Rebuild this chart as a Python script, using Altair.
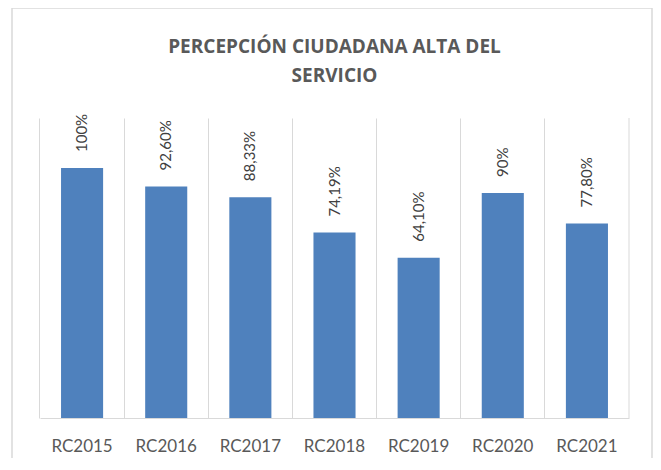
import altair as alt
import pandas as pd

categories = ["RC2015", "RC2016", "RC2017", "RC2018", "RC2019", "RC2020", "RC2021"]
values = [100, 92.6, 88.33, 74.19, 64.1, 90, 77.8]
value_labels = ["100%", "92,60%", "88,33%", "74,19%", "64,10%", "90%", "77,80%"]
title_lines = ["PERCEPCIÓN CIUDADANA ALTA DEL", "SERVICIO"]

df = pd.DataFrame({"cat": categories, "val": values, "lab": value_labels})

W, H = 589, 300
BAR = "#4F81BD"
GRID = "#D9D9D9"
TXT = "#595959"

xscale = alt.Scale(paddingInner=0.5, paddingOuter=0.25)
yscale = alt.Scale(domain=[0, 120])

base = alt.Chart(df)

bars = base.mark_bar(color=BAR).encode(
    x=alt.X("cat:N", sort=categories, scale=xscale,
            axis=alt.Axis(title=None, ticks=False, grid=True, gridColor=GRID,
                          gridWidth=1, bandPosition=-0.5,
                          domain=True, domainColor=GRID, domainWidth=1, labelAngle=0,
                          labelFont="Lato", labelFontSize=17, labelColor=TXT,
                          labelPadding=20)),
    y=alt.Y("val:Q", scale=yscale, axis=None),
)

labels = base.mark_text(angle=270, align="left", baseline="middle", dx=16,
                        font="Lato", fontSize=15, color="#404040").encode(
    x=alt.X("cat:N", sort=categories, scale=xscale),
    y=alt.Y("val:Q", scale=yscale),
    text="lab:N",
)

one = pd.DataFrame({"a": [0]})

right_rule = alt.Chart(one).mark_rule(color=GRID, strokeWidth=1).encode(
    x=alt.value(W), y=alt.value(0), y2=alt.value(H)
)

border = alt.Chart(one).mark_rect(
    fill=None, stroke=GRID, strokeWidth=1.5, clip=False
).encode(
    x=alt.value(-28), x2=alt.value(612), y=alt.value(-110), y2=alt.value(400)
)

title = alt.Chart(one).mark_text(
    text=title_lines, font="Open Sans", fontSize=19, fontWeight="bold",
    color=TXT, align="center", baseline="middle", lineHeight=29
).encode(x=alt.value(W / 2), y=alt.value(-71))

chart = alt.layer(border, right_rule, bars, labels, title).properties(
    width=W, height=H,
    autosize=alt.AutoSizeParams(type="none"),
    padding={"left": 32, "top": 110, "right": 24, "bottom": 40},
).configure_view(stroke=None)

chart.save("out.html", embed_options={"renderer": "svg", "actions": False})
